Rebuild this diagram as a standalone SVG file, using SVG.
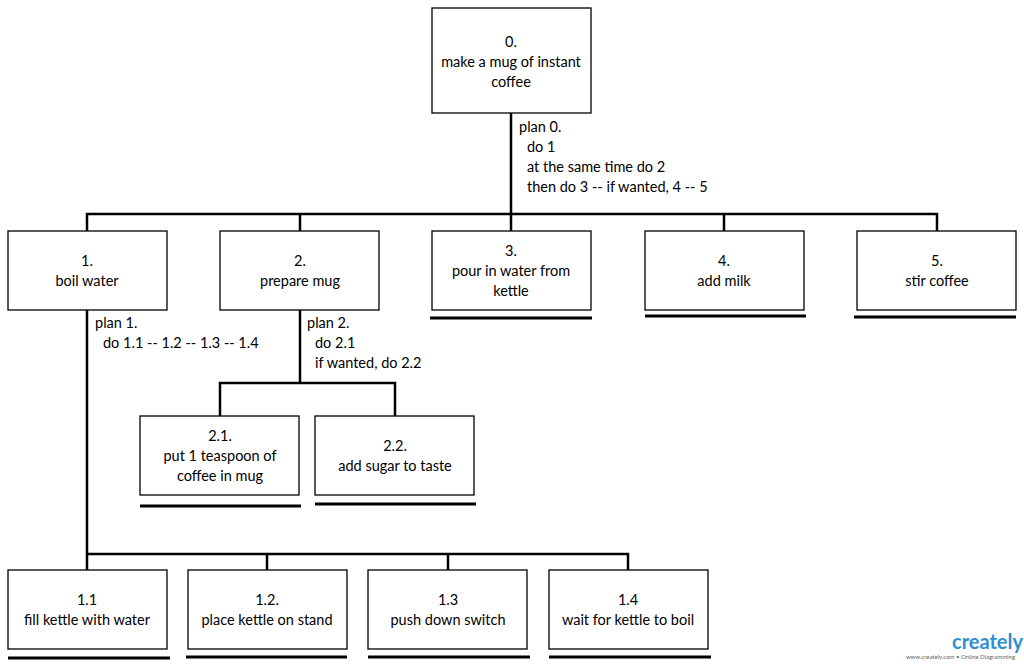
<svg xmlns="http://www.w3.org/2000/svg" width="1024" height="665" viewBox="0 0 1024 665">
<style>
.n rect{fill:#fff;stroke:#000;stroke-width:1.3}
text{font-family:Lato,"Open Sans",sans-serif;font-size:14.5px;fill:#000}
.c{text-anchor:middle}
.w{stroke:#000;stroke-width:2.5;fill:none}
.u{stroke:#000;stroke-width:3}
</style>
<rect width="1024" height="665" fill="#fff"/>
<g id="connectors" class="w">
<path d="M511 113V214M87 231V214H937V231M300 214V231M511 214V231M724 214V231"/>
<path d="M300 310V383M220 416V383H395V416"/>
<path d="M87 310V570M87 554H628V570M267 554V570M448 554V570"/>
</g>
<g id="underlines" class="u">
<line x1="430" y1="318" x2="592" y2="318"/>
<line x1="645" y1="316" x2="806" y2="316"/>
<line x1="854" y1="317" x2="1016" y2="317"/>
<line x1="140" y1="506" x2="301" y2="506"/>
<line x1="315" y1="504" x2="476" y2="504"/>
<line x1="8" y1="658" x2="170" y2="658"/>
<line x1="186" y1="657" x2="347" y2="657"/>
<line x1="368" y1="657" x2="530" y2="657"/>
<line x1="549" y1="657" x2="711" y2="657"/>
</g>
<g id="n0" class="n"><rect x="432" y="8" width="159" height="105"/><text class="c" x="511" y="47">0.</text><text class="c" x="511" y="67">make a mug of instant</text><text class="c" x="511" y="87">coffee</text></g>
<g id="plan0"><text x="519" y="132">plan 0.</text><text x="527" y="152">do 1</text><text x="527" y="172">at the same time do 2</text><text x="527" y="192">then do 3 -- if wanted, 4 -- 5</text></g>
<g id="n1" class="n"><rect x="8" y="231" width="159" height="79"/><text class="c" x="87" y="266">1.</text><text class="c" x="87" y="286">boil water</text></g>
<g id="n2" class="n"><rect x="220" y="231" width="159" height="79"/><text class="c" x="300" y="266">2.</text><text class="c" x="300" y="286">prepare mug</text></g>
<g id="n3" class="n"><rect x="432" y="231" width="159" height="79"/><text class="c" x="511" y="256">3.</text><text class="c" x="511" y="276">pour in water from</text><text class="c" x="511" y="296">kettle</text></g>
<g id="n4" class="n"><rect x="645" y="231" width="159" height="79"/><text class="c" x="724" y="266">4.</text><text class="c" x="724" y="286">add milk</text></g>
<g id="n5" class="n"><rect x="857" y="231" width="159" height="79"/><text class="c" x="937" y="266">5.</text><text class="c" x="937" y="286">stir coffee</text></g>
<g id="plan1"><text x="95" y="328">plan 1.</text><text x="103" y="348">do 1.1 -- 1.2 -- 1.3 -- 1.4</text></g>
<g id="plan2"><text x="307" y="328">plan 2.</text><text x="315" y="348">do 2.1</text><text x="315" y="368">if wanted, do 2.2</text></g>
<g id="n21" class="n"><rect x="140" y="416" width="159" height="79"/><text class="c" x="220" y="441">2.1.</text><text class="c" x="220" y="461">put 1 teaspoon of</text><text class="c" x="220" y="481">coffee in mug</text></g>
<g id="n22" class="n"><rect x="315" y="416" width="159" height="79"/><text class="c" x="395" y="451">2.2.</text><text class="c" x="395" y="471">add sugar to taste</text></g>
<g id="n11" class="n"><rect x="8" y="570" width="159" height="79"/><text class="c" x="87" y="605">1.1</text><text class="c" x="87" y="625">fill kettle with water</text></g>
<g id="n12" class="n"><rect x="188" y="570" width="159" height="79"/><text class="c" x="267" y="605">1.2.</text><text class="c" x="267" y="625">place kettle on stand</text></g>
<g id="n13" class="n"><rect x="368" y="570" width="159" height="79"/><text class="c" x="448" y="605">1.3</text><text class="c" x="448" y="625">push down switch</text></g>
<g id="n14" class="n"><rect x="549" y="570" width="159" height="79"/><text class="c" x="628" y="605">1.4</text><text class="c" x="628" y="625">wait for kettle to boil</text></g>
<g id="logo"><text x="952" y="649" style="font-size:20px;fill:#2f8fd0;font-weight:bold">creately</text><text x="1015" y="659" text-anchor="end" style="font-size:6px;fill:#666">www.creately.com • Online Diagramming</text></g>
</svg>
